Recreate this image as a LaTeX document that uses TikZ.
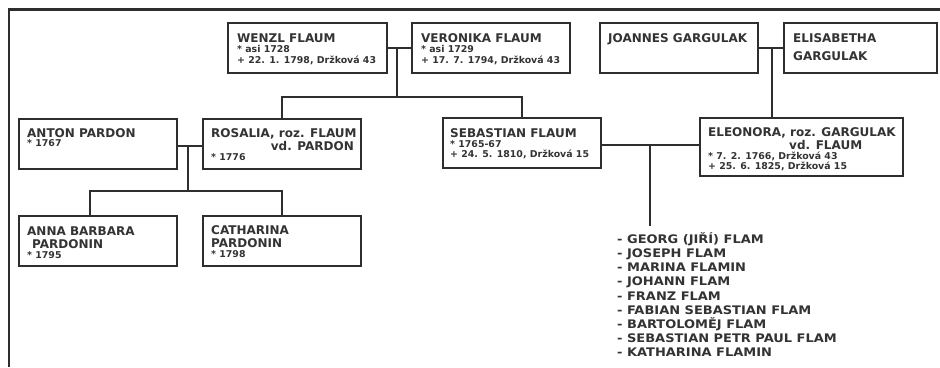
\documentclass[tikz,border=0pt]{standalone}
\usepackage{fontspec}
\setmainfont{DejaVu Sans}
\newfontfamily\widefont{DejaVu Sans}[FakeStretch=1.1]
\definecolor{lc}{HTML}{2E2E2E}
\definecolor{tc}{HTML}{333333}
\begin{document}
\begin{tikzpicture}[x=1pt,y=-1pt,
  ln/.style={draw=lc,line width=2.5pt},
  pbox/.style={draw=lc,line width=2.5pt,rectangle,inner sep=0pt,outer sep=0pt,anchor=north west,fill=white},
  nm/.style={anchor=base west,inner sep=0pt,text=tc,font=\bfseries\fontsize{12}{14}\selectfont},
  sm/.style={anchor=base west,inner sep=0pt,text=tc,font=\bfseries\fontsize{9.4}{11}\selectfont},
  ch/.style={anchor=base west,inner sep=0pt,text=tc,font=\widefont\bfseries\fontsize{11.8}{14}\selectfont}]
\useasboundingbox[fill=white] (0,0) rectangle (940,367);
% frame
\coordinate (fl) at (9,367);
\coordinate (fc) at (9,9.5);
\coordinate (fr) at (940,9.5);
\draw[ln] (fl) -- (fc) -- (fr);
% boxes
\node[pbox,minimum width=159pt,minimum height=50pt] (wenzl) at (228,23) {};
\node[pbox,minimum width=158pt,minimum height=50pt] (veron) at (412,23) {};
\node[pbox,minimum width=158pt,minimum height=50pt] (joan) at (600,23) {};
\node[pbox,minimum width=153pt,minimum height=50pt] (elis) at (784,23) {};
\node[pbox,minimum width=158pt,minimum height=50pt] (anton) at (19,119) {};
\node[pbox,minimum width=158pt,minimum height=50pt] (rosa) at (203,119) {};
\node[pbox,minimum width=158pt,minimum height=50pt] (seb) at (443,118) {};
\node[pbox,minimum width=203pt,minimum height=58pt] (eleo) at (700,118) {};
\node[pbox,minimum width=158pt,minimum height=50pt] (anna) at (19,216) {};
\node[pbox,minimum width=158pt,minimum height=50pt] (cath) at (203,216) {};
% texts
\node[nm] (t1) at (237,42) {WENZL FLAUM};
\node[sm] (t2) at (237,52) {* asi 1728};
\node[sm] (t3) at (237,63) {+ 22. 1. 1798, Držková 43};
\node[nm] (t4) at (421,42) {VERONIKA FLAUM};
\node[sm] (t5) at (421,52) {* asi 1729};
\node[sm] (t6) at (421,63) {+ 17. 7. 1794, Držková 43};
\node[nm] (t7) at (608,42) {JOANNES GARGULAK};
\node[nm] (t8) at (793,42) {ELISABETHA};
\node[nm] (t9) at (793,60) {GARGULAK};
\node[nm] (t10) at (27,137) {ANTON PARDON};
\node[sm] (t11) at (27,146) {* 1767};
\node[nm] (t12) at (211,137) {ROSALIA, roz. FLAUM};
\node[nm,anchor=base east] (t13) at (354,150) {vd. PARDON};
\node[sm] (t14) at (211,160) {* 1776};
\node[nm] (t15) at (450,137) {SEBASTIAN FLAUM};
\node[sm] (t16) at (450,147) {* 1765-67};
\node[sm] (t17) at (450,157) {+ 24. 5. 1810, Držková 15};
\node[nm] (t18) at (708,136) {ELEONORA, roz. GARGULAK};
\node[nm] (t19) at (789,149) {vd. FLAUM};
\node[sm] (t20) at (708,159) {* 7. 2. 1766, Držková 43};
\node[sm] (t21) at (708,169) {+ 25. 6. 1825, Držková 15};
\node[nm] (t22) at (27,235) {ANNA BARBARA};
\node[nm] (t23) at (32,248) {PARDONIN};
\node[sm] (t24) at (27,258) {* 1795};
\node[nm] (t25) at (211,234) {CATHARINA};
\node[nm] (t26) at (211,247) {PARDONIN};
\node[sm] (t27) at (211,257) {* 1798};
% children list
\foreach \txt [count=\i from 0] in {GEORG (JIŘÍ) FLAM, JOSEPH FLAM, MARINA FLAMIN, JOHANN FLAM, FRANZ FLAM, FABIAN SEBASTIAN FLAM, BARTOLOMĚJ FLAM, SEBASTIAN PETR PAUL FLAM, KATHARINA FLAMIN}
  \node[ch] (c\i) at (617,243.5+14.15*\i) {- \txt};
% connectors
\coordinate (j1) at (397,48);
\coordinate (j1b) at (397,97);
\draw[ln] (wenzl.east) -- (veron.west);
\draw[ln] (j1) -- (j1b);
\draw[ln] (rosa.north) |- (j1b) -| (seb.north);
\coordinate (j2) at (772,48);
\draw[ln] (joan.east) -- (elis.west);
\draw[ln] (j2) -- (j2 |- eleo.north);
\coordinate (j3) at (188,146);
\coordinate (j3b) at (188,191);
\coordinate (ja) at (90,191);
\draw[ln] (anton.east |- j3) -- (rosa.west |- j3);
\draw[ln] (j3) -- (j3b);
\draw[ln] (ja |- anna.north) -- (ja) -- (cath.north |- ja) -- (cath.north);
\coordinate (j4) at (650,145);
\coordinate (j4b) at (650,226);
\draw[ln] (seb.east |- j4) -- (eleo.west |- j4);
\draw[ln] (j4) -- (j4b);
\end{tikzpicture}
\end{document}
